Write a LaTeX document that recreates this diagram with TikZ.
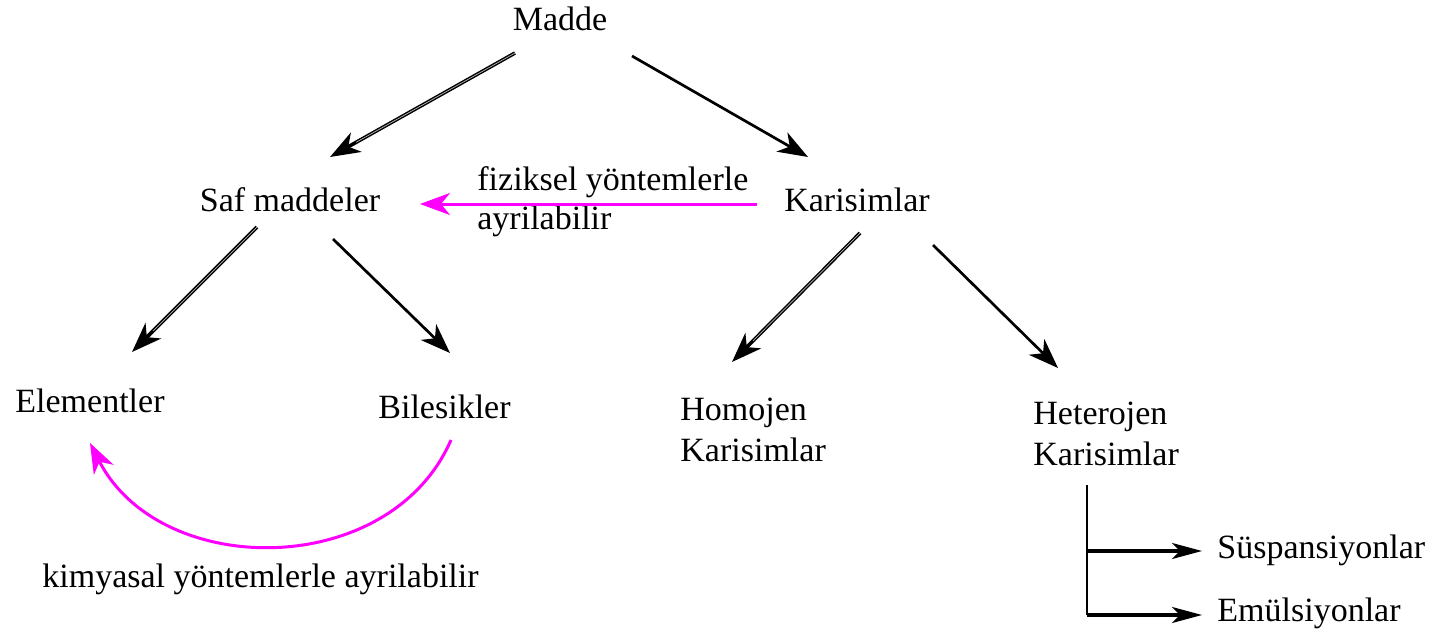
\documentclass[tikz,border=0pt]{standalone}
\usepackage{fontspec}
\setmainfont{Liberation Serif}
\usetikzlibrary{arrows.meta}
\definecolor{mag}{RGB}{255,0,255}
\begin{document}
\begin{tikzpicture}[x=0.5pt,y=-0.5pt,
  lbl/.style={inner sep=0pt, font=\fontsize{17}{20.5}\selectfont},
  tip/.style={-{Stealth[length=15pt,width=11pt,inset=4.5pt]}},
  arr/.style={line width=1.35pt, tip},
  dbl/.style={line width=1.8pt, tip,
    postaction={draw=gray!55, line width=0.35pt, shorten >=15pt, -}},
  marr/.style={draw=mag, line width=1.5pt, tip},
  tick/.style={line width=1.6pt, -{Stealth[length=15pt,width=8pt,inset=4pt]}}]
\useasboundingbox (0,0) rectangle (1431,632);

% concept labels (multi-line nodes are placed by the baseline of their last line)
\node[lbl, anchor=base] (madde) at (560,30) {Madde};
\node[lbl, anchor=base] (saf) at (290,211) {Saf maddeler};
\node[lbl, anchor=base] (kar) at (857,211) {Karisimlar};
\node[lbl, anchor=base west] (elem) at (15,412) {Elementler};
\node[lbl, anchor=base west] (bil) at (378,418) {Bilesikler};
\node[lbl, anchor=base west, align=left] (homo) at (680,461) {Homojen\\Karisimlar};
\node[lbl, anchor=base west, align=left] (hete) at (1033,465) {Heterojen\\Karisimlar};
\node[lbl, anchor=base west] (susp) at (1217,558) {Süspansiyonlar};
\node[lbl, anchor=base west] (emul) at (1217,621) {Emülsiyonlar};

% separation notes
\node[lbl, anchor=base west, align=left, font=\fontsize{17}{19.5}\selectfont] (fiz) at (477,229) {fiziksel yöntemlerle\\ayrilabilir};
\node[lbl, anchor=base west] (kim) at (42,587) {kimyasal yöntemlerle ayrilabilir};

% connector end points
\coordinate (m-s) at (515,53);   \coordinate (s-m) at (330,157);
\coordinate (m-k) at (632,56);   \coordinate (k-m) at (808,157);
\coordinate (k-s) at (757,204);  \coordinate (s-k) at (420,204);
\coordinate (s-e) at (257,227);  \coordinate (e-s) at (132,352);
\coordinate (s-b) at (333,239);  \coordinate (b-s) at (450,353);
\coordinate (k-ho) at (860,233); \coordinate (ho-k) at (732,362);
\coordinate (k-he) at (933,245); \coordinate (he-k) at (1058,368);
\coordinate (b-e) at (451,440);  \coordinate (e-b) at (90,443);
\coordinate (he-top) at (1087,485);
\coordinate (br1) at (1087,551); \coordinate (br2) at (1087,615);
\coordinate (su-in) at (1202,551); \coordinate (em-in) at (1202,615);

% hierarchy arrows
\draw[dbl] (m-s) -- (s-m);
\draw[arr] (m-k) -- (k-m);
\draw[dbl] (s-e) -- (e-s);
\draw[arr] (s-b) -- (b-s);
\draw[dbl] (k-ho) -- (ho-k);
\draw[arr] (k-he) -- (he-k);

% separation arrows
\draw[marr] (k-s) -- (s-k);
\draw[marr] (b-e) .. controls (390,580) and (160,580) .. (e-b);

% heterogeneous mixture branches
\draw[line width=1pt] (he-top) -- (br2);
\draw[tick] (br1) -- (su-in);
\draw[tick] (br2) -- (em-in);
\end{tikzpicture}
\end{document}
